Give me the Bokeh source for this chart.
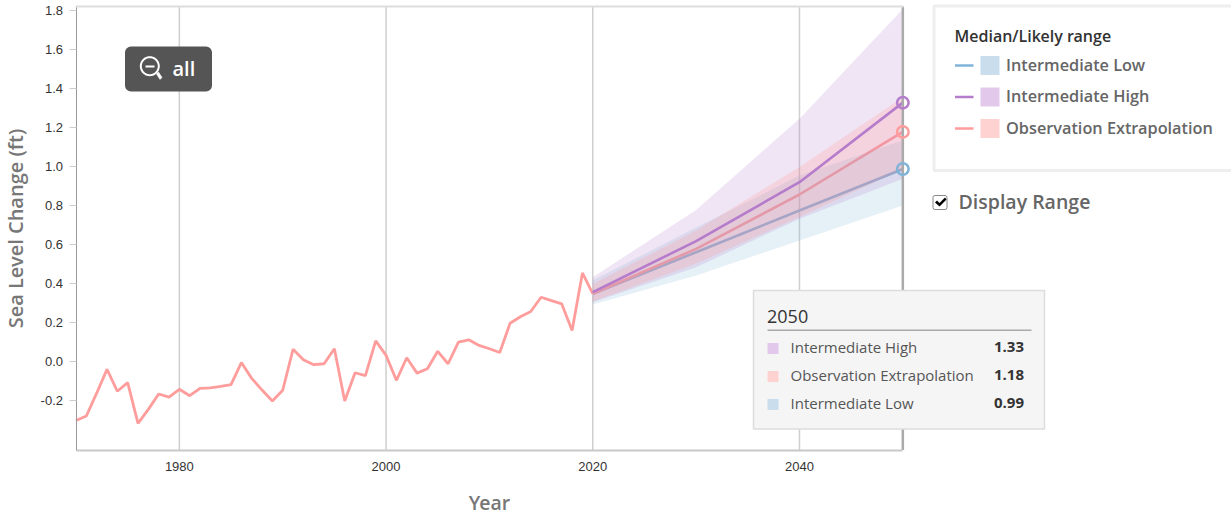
import numpy as np
from bokeh.embed import file_html
from bokeh.resources import INLINE
from bokeh.plotting import figure
from bokeh.models import (BoxAnnotation, Label, PolyAnnotation, FixedTicker, Range1d, NumeralTickFormatter)

# ---------- data ----------
obs_years = list(range(1970, 2021))
obs_values = [-0.30, -0.277, -0.16, -0.038, -0.15, -0.106, -0.315, -0.243, -0.164, -0.18,
              -0.14, -0.173, -0.135, -0.133, -0.125, -0.116, -0.003, -0.084, -0.144, -0.20,
              -0.145, 0.065, 0.012, -0.014, -0.009, 0.068, -0.20, -0.055, -0.07, 0.108,
              0.034, -0.094, 0.022, -0.057, -0.035, 0.055, -0.009, 0.102, 0.114, 0.085,
              0.068, 0.049, 0.199, 0.232, 0.259, 0.332, 0.315, 0.298, 0.162, 0.457, 0.35]
proj_years = [2020, 2030, 2040, 2050]
low_median = [0.35, 0.563, 0.777, 0.99]
low_upper = [0.418, 0.69, 0.956, 1.136]
low_lower = [0.295, 0.444, 0.623, 0.803]
high_median = [0.358, 0.62, 0.922, 1.33]
high_upper = [0.435, 0.78, 1.247, 1.81]
high_lower = [0.307, 0.486, 0.735, 0.94]
obsx_median = [0.35, 0.58, 0.859, 1.18]
obsx_upper = [0.40, 0.674, 1.0, 1.358]
obsx_lower = [0.31, 0.505, 0.743, 0.99]

x_ticks = [1980, 2000, 2020, 2040]
y_ticks = [-0.2, 0.0, 0.2, 0.4, 0.6, 0.8, 1.0, 1.2, 1.4, 1.6, 1.8]
legend_names = ["Intermediate Low", "Intermediate High", "Observation Extrapolation"]
tip_rows = [("Intermediate High", "1.33"), ("Observation Extrapolation", "1.18"), ("Intermediate Low", "0.99")]

BLUE, PURPLE, PINK = "#7fb3d8", "#b57ccc", "#ff9c9c"
SW = {"Intermediate Low": "#c9dded", "Intermediate High": "#e2c9ec", "Observation Extrapolation": "#ffd2d2"}
LINE = {"Intermediate Low": BLUE, "Intermediate High": PURPLE, "Observation Extrapolation": PINK}
FONT = "Open Sans"
SEMI = "Open Sans SemiBold"
Y_BOTTOM, Y_TOP = -0.4513, 1.823

p = figure(width=1231, height=516, output_backend="svg", toolbar_location=None,
           x_range=Range1d(1962.695, 2081.8), y_range=Range1d(-0.7923, 1.8538),
           min_border=0, outline_line_color=None, background_fill_color="white",
           styles={"position": "absolute", "left": "0px", "top": "0px"})

# axes
p.xaxis.fixed_location = Y_BOTTOM
p.xaxis.ticker = FixedTicker(ticks=x_ticks)
p.xaxis.bounds = (1970, 2050)
p.xaxis.axis_line_color = "#c8c8c8"
p.xaxis.axis_line_width = 2
p.xaxis.major_tick_line_color = None
p.xaxis.minor_tick_line_color = None
p.xaxis.major_label_standoff = 6
p.xaxis.major_label_text_font = "Liberation Sans"
p.xaxis.major_label_text_font_size = "13px"
p.xaxis.major_label_text_color = "#333333"

p.yaxis.fixed_location = 1970
p.yaxis.bounds = (Y_BOTTOM, Y_TOP)
p.yaxis.ticker = FixedTicker(ticks=y_ticks)
p.yaxis.formatter = NumeralTickFormatter(format="0.0")
p.yaxis.axis_line_color = "#999999"
p.yaxis.major_tick_line_color = "#cccccc"
p.yaxis.major_tick_out = 7
p.yaxis.major_tick_in = 0
p.yaxis.minor_tick_line_color = None
p.yaxis.major_label_standoff = 6
p.yaxis.major_label_text_font = "Liberation Sans"
p.yaxis.major_label_text_font_size = "13px"
p.yaxis.major_label_text_color = "#333333"

p.xgrid.grid_line_color = None
p.ygrid.grid_line_color = None

# vertical grid lines stop at the plot area
p.segment(x_ticks, [Y_BOTTOM] * len(x_ticks), x_ticks, [Y_TOP] * len(x_ticks),
          line_color="#cfcfcf", line_width=1.5)

# lines under the bands
p.line(obs_years, obs_values, line_color=PINK, line_width=2.8)
p.line(proj_years, low_median, line_color=BLUE, line_width=2.6)
p.line(proj_years, obsx_median, line_color=PINK, line_width=2.6)

# bands
p.varea(proj_years, low_lower, low_upper, fill_color=BLUE, fill_alpha=0.2)
p.varea(proj_years, high_lower, high_upper, fill_color=PURPLE, fill_alpha=0.2)
p.varea(proj_years, obsx_lower, obsx_upper, fill_color=PINK, fill_alpha=0.25)

p.line(proj_years, high_median, line_color=PURPLE, line_width=2.6)

# crosshair and end-of-line markers
p.line([2050, 2050], [Y_BOTTOM, Y_TOP], line_color="#aaaaaa", line_width=2.5)
for series, col in ((low_median, BLUE), (high_median, PURPLE), (obsx_median, PINK)):
    p.scatter([proj_years[-1]], [series[-1]], size=11.5, fill_color=None, line_color=col, line_width=2.5)


def box(l, r, t, b, fill, line=None, lw=0, radius=0):
    p.add_layout(BoxAnnotation(left=l, right=r, top=t, bottom=b,
                               left_units="canvas", right_units="canvas",
                               top_units="canvas", bottom_units="canvas",
                               fill_color=fill, fill_alpha=1.0,
                               line_color=line, line_width=lw, line_alpha=1.0,
                               border_radius=radius, level="overlay"))


def label(x, y, text, size, color, style="normal", align="left", font=FONT, angle=0):
    p.add_layout(Label(x=x, y=y, x_units="canvas", y_units="canvas", text=text,
                       text_font=font, text_font_size=f"{size}px", text_color=color,
                       text_font_style=style, text_align=align, text_baseline="middle",
                       angle=angle, angle_units="deg", level="overlay"))


def poly(xs, ys, fill, line=None, lw=0):
    p.add_layout(PolyAnnotation(xs=list(xs), ys=list(ys), xs_units="canvas", ys_units="canvas",
                                fill_color=fill, fill_alpha=1.0 if fill else 0,
                                line_color=line, line_width=lw, line_alpha=1.0, level="overlay"))


# top rule of the plot
box(75, 903, 5, 7, "#dddddd")

# axis titles
label(14.5, 228, "Sea Level Change (ft)", 20, "#777777", font=SEMI, align="center", angle=90)
label(489, 502, "Year", 19.5, "#777777", font=SEMI, align="center")

# zoom-out button
box(124.5, 211.5, 46, 91, "#555555", radius=6)
t = np.linspace(0, 2 * np.pi, 41)
poly(149.3 + 9 * np.cos(t), 65.7 + 9 * np.sin(t), None, "white", 2)
poly([156, 158, 161.5, 159.5], [73.5, 71.5, 77, 79], "white", "white", 0.5)
box(145, 154, 65, 67, "white")
label(172, 68, "all", 20, "white", font=SEMI)

# legend panel
box(933.5, 1240, 5.5, 170, "white", "#eeeeee", 3)
label(954, 35, "Median/Likely range", 16, "#333333", font=SEMI)
for name, yc in zip(legend_names, (65, 96.5, 128)):
    box(954.5, 973, yc - 1.2, yc + 1.2, LINE[name])
    box(980, 999, yc - 9.5, yc + 9.5, SW[name])
    label(1005.5, yc - 1, name, 16.3, "#666666", font=SEMI)

# display range checkbox
box(932.5, 946.5, 195, 209, "white", "#888888", 1, radius=2)
poly([934.5, 936.5, 939, 944.5, 946, 939], [202, 200, 202.5, 197, 199, 206], "black")
label(958, 201, "Display Range", 19.5, "#666666", font=SEMI)

# tooltip
box(753, 1044, 290, 428.5, "#f5f5f5", "#dddddd", 1.5)
label(766.5, 316, "2050", 18, "#333333")
box(767, 1031, 329, 330.5, "#aaaaaa")
for (name, val), yc in zip(tip_rows, (348, 376, 404)):
    box(767, 778, yc - 5.5, yc + 5.5, SW[name])
    label(790, yc - 1.2, name, 15, "#555555")
    label(1023.5, yc - 1.2, val, 15, "#333333", style="bold", align="right")

open("out.html", "w").write(file_html(p, INLINE))
